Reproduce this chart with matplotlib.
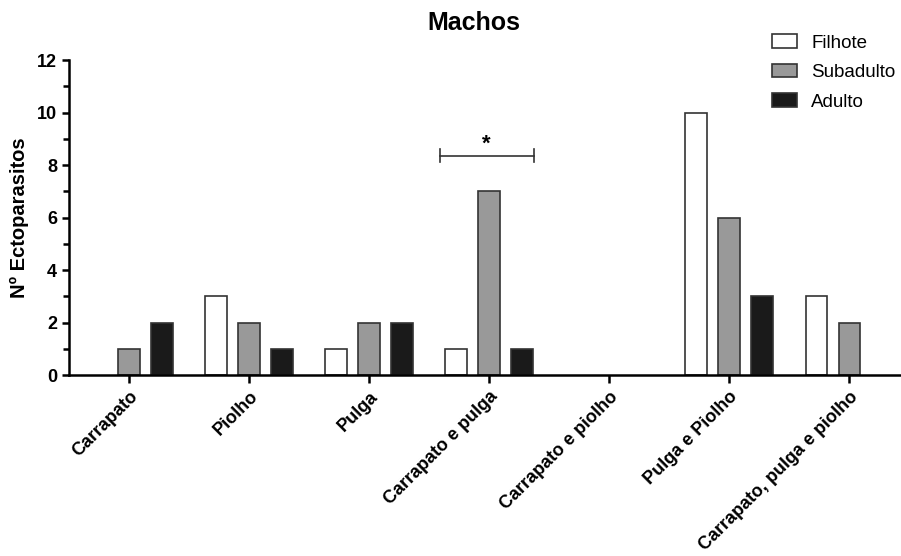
import numpy as np
import matplotlib.pyplot as plt
from matplotlib.ticker import MultipleLocator

plt.rcParams['font.family'] = ['Liberation Sans', 'DejaVu Sans']

categories = ["Carrapato", "Piolho", "Pulga", "Carrapato e pulga",
              "Carrapato e piolho", "Pulga e Piolho", "Carrapato, pulga e piolho"]
filhote = [0, 3, 1, 1, 0, 10, 3]
subadulto = [1, 2, 2, 7, 0, 6, 2]
adulto = [2, 1, 2, 1, 0, 3, 0]
series_names = ["Filhote", "Subadulto", "Adulto"]
series_colors = ["white", "#999999", "#1a1a1a"]


def draw_chart():
  fig = plt.figure(figsize=(9.01, 5.56), dpi=100)
  ax = fig.add_axes([0.0766, 0.3255, 0.95, 0.5665])

  x = np.arange(len(categories))
  width = 0.18
  offset = 0.275
  for i, (vals, name, color) in enumerate(zip([filhote, subadulto, adulto], series_names, series_colors)):
    xs = x + (i - 1) * offset
    vals = np.array(vals)
    mask = vals > 0
    ax.bar(xs[mask], vals[mask], width, color=color, edgecolor="#333333", linewidth=1.2, label=name)

  ax.set_xlim(-0.5, 6.63)
  ax.set_ylim(0, 12)
  ax.yaxis.set_major_locator(MultipleLocator(2))
  ax.yaxis.set_minor_locator(MultipleLocator(1))
  ax.set_xticks(x)
  ax.set_xticklabels(categories, rotation=45, ha="right", rotation_mode="anchor",
                     fontweight="bold", fontsize=13)
  for lbl in ax.get_yticklabels():
    lbl.set_fontweight("bold")
  ax.tick_params(axis="y", labelsize=13, width=1.8, length=5)
  ax.tick_params(axis="y", which="minor", width=1.8, length=4)
  ax.tick_params(axis="x", width=1.8, length=6)

  for side in ["top", "right"]:
    ax.spines[side].set_visible(False)
  ax.spines["left"].set_linewidth(1.8)
  ax.spines["bottom"].set_linewidth(1.8)

  ax.set_ylabel("Nº Ectoparasitos", fontsize=14.5, fontweight="bold", labelpad=6)
  fig.text(0.5255, 0.958, "Machos", ha="center", va="center", fontsize=18, fontweight="bold")

  # significance bracket
  ax.plot([2.59, 3.37], [8.35, 8.35], color="#333333", lw=1.2)
  ax.plot([2.59, 2.59], [8.1, 8.6], color="#333333", lw=1.2)
  ax.plot([3.37, 3.37], [8.1, 8.6], color="#333333", lw=1.2)
  ax.text(2.98, 8.4, "*", ha="center", va="bottom", fontsize=16, fontweight="bold")

  ax.legend(loc="upper left", bbox_to_anchor=(0.808, 1.118), frameon=False,
            fontsize=13.5, handlelength=1.35, handleheight=0.75, labelspacing=0.65,
            handletextpad=0.75, borderaxespad=0.2)

  fig.savefig("out.png", dpi=100)


def main():
  draw_chart()


if __name__ == "__main__":
  main()
